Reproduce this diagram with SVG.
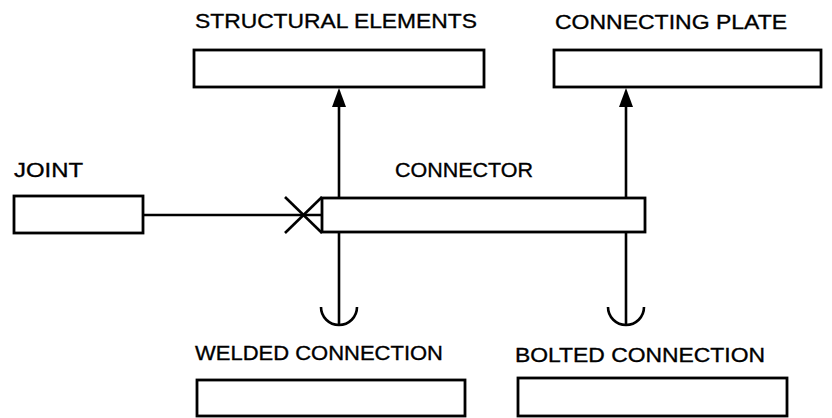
<svg xmlns="http://www.w3.org/2000/svg" width="832" height="418" viewBox="0 0 832 418">
<style>
.box{fill:#fff;stroke:#000;stroke-width:2.8}
.ln{fill:none;stroke:#000;stroke-width:2.6}
.head{fill:#000;stroke:none}
.lbl{font-family:"Liberation Sans","DejaVu Sans",sans-serif;font-size:21px;fill:#000;stroke:#000;stroke-width:0.35}
</style>
<rect width="832" height="418" fill="#fff"/>
<g id="connectors">
<line class="ln" x1="339" y1="198" x2="339" y2="100"/>
<polygon class="head" points="339,88 332,107 346,107"/>
<line class="ln" x1="626" y1="198" x2="626" y2="100"/>
<polygon class="head" points="626,88 619,107 633,107"/>
<line class="ln" x1="143" y1="215" x2="322" y2="215"/>
<line class="ln" x1="285" y1="197" x2="322" y2="233"/>
<line class="ln" x1="285" y1="233" x2="322" y2="197"/>
<line class="ln" x1="339" y1="232" x2="339" y2="326"/>
<path class="ln" d="M321,307 A18,18 0 0 0 357,307"/>
<line class="ln" x1="626" y1="232" x2="626" y2="326"/>
<path class="ln" d="M608,307 A18,18 0 0 0 644,307"/>
</g>
<g id="structural-elements">
<rect class="box" x="194" y="50" width="290" height="37"/>
<text class="lbl" x="195" y="28" textLength="282" lengthAdjust="spacingAndGlyphs">STRUCTURAL ELEMENTS</text>
</g>
<g id="connecting-plate">
<rect class="box" x="554" y="50" width="267" height="37"/>
<text class="lbl" x="555" y="29" textLength="232" lengthAdjust="spacingAndGlyphs">CONNECTING PLATE</text>
</g>
<g id="joint">
<rect class="box" x="14" y="196" width="129" height="37"/>
<text class="lbl" x="14" y="177" textLength="69" lengthAdjust="spacingAndGlyphs">JOINT</text>
</g>
<g id="connector">
<rect class="box" x="322" y="198" width="323" height="34"/>
<text class="lbl" x="395" y="177" textLength="138" lengthAdjust="spacingAndGlyphs">CONNECTOR</text>
</g>
<g id="welded-connection">
<rect class="box" x="197" y="380" width="268" height="36"/>
<text class="lbl" x="195" y="360" textLength="248" lengthAdjust="spacingAndGlyphs">WELDED CONNECTION</text>
</g>
<g id="bolted-connection">
<rect class="box" x="518" y="378" width="269" height="38"/>
<text class="lbl" x="515" y="362" textLength="250" lengthAdjust="spacingAndGlyphs">BOLTED CONNECTION</text>
</g>
</svg>
